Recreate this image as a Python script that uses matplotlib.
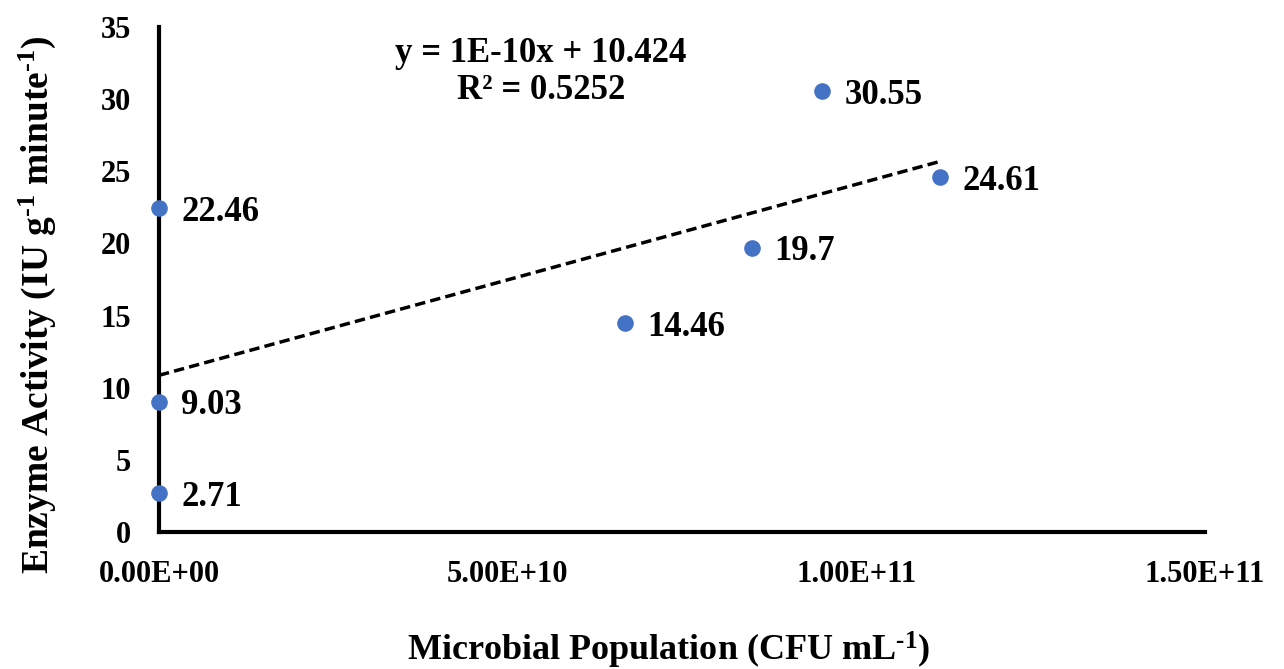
import matplotlib.pyplot as plt
import numpy as np

# data
population = [0.0, 0.0, 0.0, 6.68e10, 8.50e10, 9.51e10, 1.12e11]
activity = [22.46, 9.03, 2.71, 14.46, 19.7, 30.55, 24.61]
x_ticks = [0, 5e10, 1e11, 1.5e11]
x_ticklabels = ['0.00E+00', '5.00E+10', '1.00E+11', '1.50E+11']
y_ticks = [0, 5, 10, 15, 20, 25, 30, 35]
equation = 'y = 1E-10x + 10.424\nR\u00b2 = 0.5252'

plt.rcParams['font.family'] = ['Liberation Serif', 'DejaVu Serif']
plt.rcParams['font.weight'] = 'bold'
plt.rcParams['mathtext.fontset'] = 'custom'
plt.rcParams['mathtext.rm'] = 'Liberation Serif:bold'
plt.rcParams['mathtext.it'] = 'Liberation Serif:bold'
plt.rcParams['mathtext.bf'] = 'Liberation Serif:bold'

fig = plt.figure(figsize=(12.84, 6.69), dpi=100)
ax = fig.add_axes([0.1238, 0.2048, 0.8147, 0.7548])

ax.scatter(population, activity, s=120, color='#4472C4', zorder=3, clip_on=False)

# linear trendline
slope, icpt = np.polyfit(population, activity, 1)
xs = np.array([0, max(population)])
ax.plot(xs, slope * xs + icpt, color='black', linestyle=(0, (3, 1.5)), linewidth=2.5, zorder=2)

for x, y in zip(population, activity):
    ax.annotate(f'{y:g}', (x, y), xytext=(16, -3), textcoords='offset points',
                fontsize=25, fontweight='bold', va='center', ha='left')

ax.text(0.365, 0.98, equation, transform=ax.transAxes, fontsize=25,
        fontweight='bold', ha='center', va='top', linespacing=1.15)

ax.set_xlim(0, 1.5e11)
ax.set_ylim(0, 35)
ax.set_xticks(x_ticks)
ax.set_xticklabels(x_ticklabels)
ax.set_yticks(y_ticks)
ax.tick_params(length=0, labelsize=22, pad=20)
for lab in ax.get_xticklabels() + ax.get_yticklabels():
    lab.set_fontweight('bold')

ax.spines['top'].set_visible(False)
ax.spines['right'].set_visible(False)
ax.spines['left'].set_linewidth(3)
ax.spines['bottom'].set_linewidth(3)

ax.set_xlabel('Microbial Population (CFU mL$^{\u2010 1}$)', fontsize=26, fontweight='bold', va='center')
ax.set_ylabel('Enzyme Activity (IU g$^{\u2010 1}$ minute$^{\u2010 1}$)', fontsize=27, fontweight='bold', va='center')
ax.xaxis.set_label_coords(0.487, -0.235)
ax.yaxis.set_label_coords(-0.116, 0.45)

fig.savefig('out.png', dpi=100)
